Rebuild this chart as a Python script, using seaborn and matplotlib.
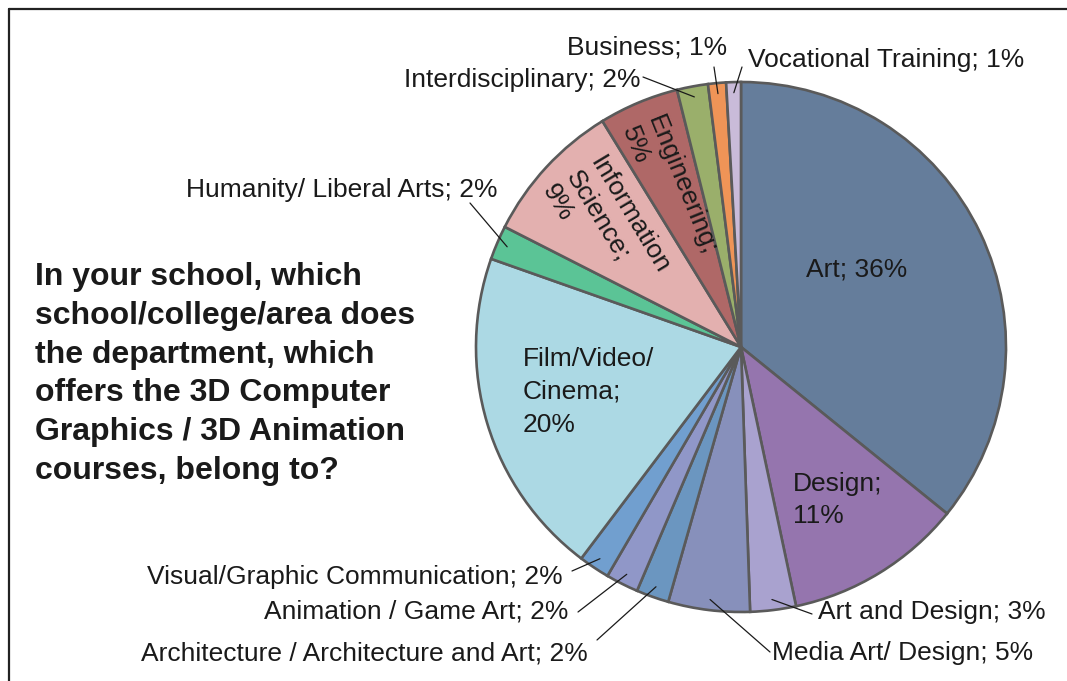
import matplotlib.pyplot as plt
import numpy as np
import seaborn as sns

sns.set_theme(style="white")
plt.rcParams['font.family'] = ['Liberation Sans', 'DejaVu Sans']

# clockwise from 12 o'clock
categories = ["Art", "Design", "Art and Design", "Media Art/ Design",
              "Architecture / Architecture and Art", "Animation / Game Art",
              "Visual/Graphic Communication", "Film/Video/ Cinema",
              "Humanity/ Liberal Arts", "Information Science", "Engineering",
              "Interdisciplinary", "Business", "Vocational Training"]
shares = [36.0, 10.9, 2.8, 5.0, 2.0, 2.0, 1.9, 20.2, 2.1, 8.8, 4.9, 1.9, 1.1, 0.9]
colors = ["#657d9b", "#9575ae", "#a9a2cf", "#8790bb", "#6b96c0", "#9097c8",
          "#719fcf", "#acd9e4", "#5bc496", "#e3b0af", "#af6867", "#9aaf6b",
          "#ef9457", "#c9bbd9"]

question = ("In your school, which\nschool/college/area does\nthe department, which\n"
            "offers the 3D Computer\nGraphics / 3D Animation\ncourses, belong to?")

W, H = 1067, 681
fig = plt.figure(figsize=(W / 100, H / 100), dpi=100)
ax = fig.add_axes([0, 0, 1, 1])

cx, cy, R = 741, H - 347, 265
wedges, _ = ax.pie(shares, colors=colors, startangle=90, counterclock=False,
                   center=(cx, cy), radius=R, frame=True,
                   wedgeprops=dict(edgecolor="#5a5a5a", linewidth=1.9))
ax.set_xlim(0, W)
ax.set_ylim(0, H)
ax.axis("off")

# frame (top and left edges only visible)
ax.plot([9, W], [H - 9, H - 9], color="#222222", lw=1.6, clip_on=False)
ax.plot([9, 9], [H - 9, 0], color="#222222", lw=1.6, clip_on=False)

fs = 19
txt = dict(fontsize=fs, color="#1a1a1a")


def lab(i):
    return f"{categories[i]}; {round(shares[i]):.0f}%"


def mid_point(i, frac):
    w = wedges[i]
    a = np.deg2rad((w.theta1 + w.theta2) / 2)
    return cx + frac * R * np.cos(a), cy + frac * R * np.sin(a)


# inside labels
ax.text(857, H - 270, lab(0), ha="center", va="center", **txt)
ax.text(793, H - 500, "Design;\n11%", ha="left", va="center", linespacing=1.45, **txt)
ax.text(523, H - 392, "Film/Video/\nCinema;\n20%", ha="left", va="center",
        linespacing=1.45, **txt)
ax.text(606, H - 152, "Information\nScience;\n9%", ha="left", va="top",
        rotation=-59, linespacing=1.2, rotation_mode="anchor", **txt)
ax.text(665, H - 112, "Engineering;\n5%", ha="left", va="top",
        rotation=-68, linespacing=1.2, rotation_mode="anchor", **txt)

# outside labels: (index, text x, text y, ha, line end x, line end y)
outside = [
    (12, 647, 48, "center", 714, 67),
    (13, 748, 60, "left", 742, 67),
    (11, 640, 80, "right", 643, 77),
    (8, 497, 190, "right", 470, 203),
    (6, 563, 577, "right", 572, 571),
    (5, 568, 612, "right", 578, 612),
    (4, 588, 653, "right", 597, 640),
    (2, 818, 612, "left", 812, 614),
    (3, 772, 653, "left", 770, 652),
]
for i, tx, ty, ha, lx, ly in outside:
    ax.text(tx, H - ty, lab(i), ha=ha, va="center", **txt)
    px, py = mid_point(i, 0.96)
    ax.plot([px, lx], [py, H - ly], color="#1a1a1a", lw=0.9)

ax.text(35, H - 374, question, ha="left", va="center", fontsize=23,
        fontweight="bold", color="#1a1a1a", linespacing=1.38)

fig.savefig("out.png", dpi=100, facecolor="white")
